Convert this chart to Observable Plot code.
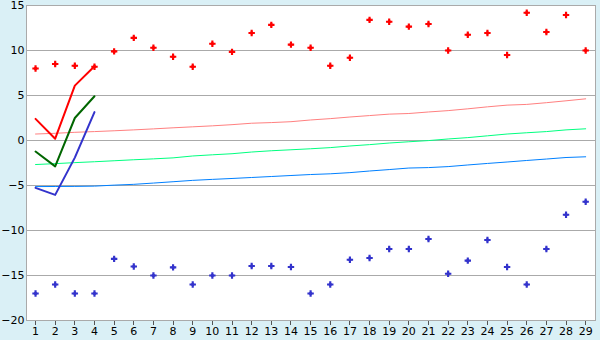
<!DOCTYPE html>
<html>
<head>
<meta charset="utf-8">
<script src="https://cdn.jsdelivr.net/npm/d3@7"></script>
<script src="https://cdn.jsdelivr.net/npm/@observablehq/plot@0.6"></script>
<style>
  html, body { margin: 0; padding: 0; background: #daf0f6; }
  #chart { width: 600px; height: 340px; }
</style>
</head>
<body>
<div id="chart"></div>
<script>
const days = [1,2,3,4,5,6,7,8,9,10,11,12,13,14,15,16,17,18,19,20,21,22,23,24,25,26,27,28,29];
const yTicks = [-20,-15,-10,-5,0,5,10,15];

const redPoints = [8, 8.5, 8.3, 8.2, 9.9, 11.4, 10.3, 9.3, 8.2, 10.75, 9.85, 11.95, 12.85, 10.65, 10.3, 8.3, 9.2, 13.4, 13.2, 12.65, 12.95, 10, 11.75, 11.95, 9.5, 14.2, 12.05, 13.95, 10];
const bluePoints = [-17, -16, -17, -17, -13.15, -14, -15, -14.1, -16, -15, -15, -13.95, -13.95, -14.05, -17, -16, -13.25, -13.05, -12.05, -12.05, -10.95, -14.8, -13.35, -11.05, -14.05, -16, -12.05, -8.25, -6.8];

const shortDays = [1,2,3,4];
const redLine = [2.4, 0.2, 6.1, 8.25];
const greenLine = [-1.22, -2.87, 2.5, 4.92];
const blueLine = [-5.26, -6.04, -1.9, 3.15];

const pinkTrend = [0.72, 0.8, 0.91, 0.99, 1.08, 1.18, 1.29, 1.41, 1.52, 1.63, 1.76, 1.92, 1.99, 2.09, 2.28, 2.43, 2.61, 2.77, 2.93, 3.0, 3.17, 3.32, 3.52, 3.74, 3.93, 4.01, 4.2, 4.41, 4.63];
const greenTrend = [-2.67, -2.57, -2.46, -2.36, -2.25, -2.14, -2.04, -1.93, -1.72, -1.59, -1.47, -1.28, -1.14, -1.03, -0.92, -0.79, -0.61, -0.46, -0.28, -0.14, -0.01, 0.17, 0.32, 0.52, 0.72, 0.86, 0.99, 1.18, 1.3];
const blueTrend = [-5.12, -5.11, -5.1, -5.07, -4.96, -4.87, -4.73, -4.58, -4.43, -4.32, -4.22, -4.11, -4.0, -3.89, -3.78, -3.7, -3.57, -3.39, -3.23, -3.06, -3.01, -2.9, -2.72, -2.55, -2.39, -2.22, -2.06, -1.89, -1.81];

const rows = (xs, ys) => xs.map((x, i) => ({x, y: ys[i]}));

const chart = Plot.plot({
  width: 600,
  height: 340,
  marginLeft: 26,
  marginRight: 5,
  marginTop: 5,
  marginBottom: 20,
  style: {background: "transparent", fontFamily: "DejaVu Sans, Verdana, sans-serif", fontSize: "11px", color: "#000"},
  x: {domain: [0.54, 29.5], label: null},
  y: {domain: [-20, 15], label: null},
  marks: [
    Plot.frame({fill: "white", stroke: null}),
    Plot.gridY(yTicks, {stroke: "#aaaaaa", strokeOpacity: 1, shapeRendering: "crispEdges"}),
    Plot.axisY(yTicks, {tickSize: 0, tickPadding: 2, fill: "#000", fontSize: 11}),
    Plot.axisX(days, {tickSize: 5, stroke: "#555", tickPadding: 2, fill: "#000", fontSize: 11, shapeRendering: "crispEdges"}),
    Plot.line(rows(days, pinkTrend), {x: "x", y: "y", stroke: "#ff8080", strokeWidth: 1}),
    Plot.line(rows(days, greenTrend), {x: "x", y: "y", stroke: "#00ff80", strokeWidth: 1}),
    Plot.line(rows(days, blueTrend), {x: "x", y: "y", stroke: "#0080ff", strokeWidth: 1}),
    Plot.line(rows(shortDays, redLine), {x: "x", y: "y", stroke: "#ff0000", strokeWidth: 2}),
    Plot.line(rows(shortDays, greenLine), {x: "x", y: "y", stroke: "#006600", strokeWidth: 2}),
    Plot.line(rows(shortDays, blueLine), {x: "x", y: "y", stroke: "#3333cc", strokeWidth: 2}),
    Plot.dot(rows(days, redPoints), {x: "x", y: "y", symbol: "cross", r: 2.7, fill: "#ff0000", stroke: null}),
    Plot.dot(rows(days, redPoints), {x: "x", y: "y", symbol: "diamond2", r: 2.1, fill: "#ff0000", stroke: null}),
    Plot.dot(rows(days, bluePoints), {x: "x", y: "y", symbol: "cross", r: 2.7, fill: "#3333cc", stroke: null}),
    Plot.dot(rows(days, bluePoints), {x: "x", y: "y", symbol: "diamond2", r: 2.1, fill: "#3333cc", stroke: null}),
    Plot.frame({stroke: "#aaaaaa", strokeWidth: 1, shapeRendering: "crispEdges"})
  ]
});
document.getElementById("chart").appendChild(chart);
</script>
</body>
</html>
